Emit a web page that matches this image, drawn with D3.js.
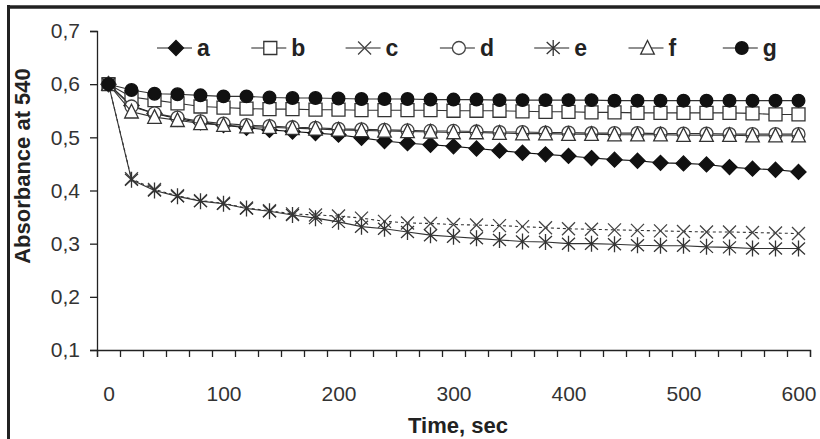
<!DOCTYPE html>
<html>
<head>
<meta charset="utf-8">
<script src="https://d3js.org/d3.v7.min.js"></script>
<style>
  body { margin: 0; background: #fff; }
  text { font-family: "Liberation Sans", Arial, sans-serif; }
</style>
</head>
<body>
<div id="chart"></div>
<script>
// time points, every 20 s
let times = d3.range(0, 601, 20);

let seriesNames = ['a', 'b', 'c', 'd', 'e', 'f', 'g'];

let valuesA = [0.600, 0.560, 0.545, 0.535, 0.528, 0.523, 0.518, 0.514, 0.511, 0.508, 0.505, 0.499, 0.493, 0.489, 0.486, 0.483, 0.479, 0.475, 0.471, 0.468, 0.465, 0.461, 0.458, 0.456, 0.452, 0.451, 0.449, 0.444, 0.441, 0.439, 0.435];
let valuesB = [0.600, 0.576, 0.570, 0.564, 0.558, 0.556, 0.554, 0.553, 0.553, 0.552, 0.552, 0.551, 0.551, 0.551, 0.551, 0.550, 0.550, 0.550, 0.549, 0.548, 0.548, 0.547, 0.547, 0.546, 0.546, 0.546, 0.546, 0.546, 0.545, 0.543, 0.543];
let valuesC = [0.600, 0.422, 0.402, 0.390, 0.381, 0.376, 0.367, 0.362, 0.356, 0.354, 0.352, 0.348, 0.342, 0.339, 0.338, 0.336, 0.335, 0.334, 0.332, 0.330, 0.328, 0.327, 0.326, 0.325, 0.324, 0.323, 0.322, 0.322, 0.321, 0.320, 0.319];
let valuesD = [0.600, 0.558, 0.545, 0.537, 0.530, 0.526, 0.523, 0.521, 0.519, 0.518, 0.516, 0.515, 0.514, 0.513, 0.512, 0.512, 0.511, 0.510, 0.510, 0.509, 0.509, 0.508, 0.508, 0.508, 0.507, 0.507, 0.507, 0.506, 0.506, 0.506, 0.506];
let valuesE = [0.600, 0.420, 0.400, 0.389, 0.380, 0.375, 0.366, 0.361, 0.354, 0.348, 0.341, 0.332, 0.328, 0.322, 0.316, 0.313, 0.310, 0.307, 0.304, 0.303, 0.300, 0.300, 0.299, 0.297, 0.296, 0.296, 0.294, 0.293, 0.291, 0.291, 0.291];
let valuesF = [0.600, 0.548, 0.538, 0.532, 0.526, 0.523, 0.520, 0.519, 0.517, 0.516, 0.514, 0.513, 0.512, 0.511, 0.510, 0.509, 0.509, 0.508, 0.507, 0.507, 0.506, 0.506, 0.505, 0.505, 0.505, 0.504, 0.504, 0.504, 0.503, 0.503, 0.503];
let valuesG = [0.600, 0.589, 0.582, 0.581, 0.579, 0.577, 0.577, 0.575, 0.574, 0.574, 0.573, 0.572, 0.572, 0.572, 0.571, 0.571, 0.571, 0.570, 0.570, 0.570, 0.570, 0.570, 0.569, 0.569, 0.569, 0.569, 0.569, 0.569, 0.569, 0.569, 0.569];

let yTicks = [0.1, 0.2, 0.3, 0.4, 0.5, 0.6, 0.7];
let xLabels = [0, 100, 200, 300, 400, 500, 600];

let allValues = [valuesA, valuesB, valuesC, valuesD, valuesE, valuesF, valuesG];

let width = 820, height = 439;
let svg = d3.select('#chart').append('svg')
  .attr('width', width)
  .attr('height', height);

// frame (top + left border of the figure)
svg.append('line').attr('x1', 7).attr('x2', width).attr('y1', 7).attr('y2', 7)
  .attr('stroke', '#222').attr('stroke-width', 3.5);
svg.append('line').attr('x1', 8.5).attr('x2', 8.5).attr('y1', 5).attr('y2', height)
  .attr('stroke', '#222').attr('stroke-width', 3);

// category style x axis: points centred between tick marks
let x = d3.scaleLinear().domain([-10, 610]).range([97, 810]);
let y = d3.scaleLinear().domain([0.1, 0.7]).range([350, 31]);

let fmt = d => d3.format('.1f')(d).replace('.', ',');

let yAxis = svg.append('g')
  .attr('transform', 'translate(97,0)')
  .call(d3.axisLeft(y).tickValues(yTicks).tickSize(7).tickPadding(10).tickFormat(fmt));

let xTickVals = d3.range(-10, 611, 20);
let xAxis = svg.append('g')
  .attr('transform', 'translate(0,350)')
  .call(d3.axisBottom(x).tickValues(xTickVals).tickSize(7).tickFormat(''));

let xLab = svg.append('g')
  .attr('transform', 'translate(0,350)')
  .call(d3.axisBottom(x).tickValues(xLabels).tickSize(0).tickPadding(36).tickFormat(d3.format('d')));
xLab.select('.domain').remove();

svg.selectAll('.domain').attr('stroke', '#222').attr('stroke-width', 1.3);
svg.selectAll('.tick line').attr('stroke', '#222').attr('stroke-width', 1.3);
svg.selectAll('.tick text')
  .attr('font-family', '"Liberation Sans", Arial, sans-serif')
  .attr('font-size', 21)
  .attr('fill', '#333');

// axis titles
svg.append('text')
  .attr('x', 458).attr('y', 433)
  .attr('text-anchor', 'middle')
  .attr('font-size', 22).attr('font-weight', 'bold').attr('fill', '#222')
  .text('Time, sec');

svg.append('text')
  .attr('transform', 'translate(30,166) rotate(-90)')
  .attr('text-anchor', 'middle')
  .attr('font-size', 22).attr('font-weight', 'bold').attr('fill', '#222')
  .text('Absorbance at 540');

// marker shapes
let markerPaths = {
  a: 'M0,-7.5L7.5,0L0,7.5L-7.5,0Z',
  b: 'M-6.5,-6.5H6.5V6.5H-6.5Z',
  c: 'M-6.5,-6.5L6.5,6.5M6.5,-6.5L-6.5,6.5',
  d: d3.symbol(d3.symbolCircle, Math.PI * 42)(),
  e: 'M-6.5,-6L6.5,6M6.5,-6L-6.5,6M0,-8V8',
  f: 'M0,-7.5L6.8,6.2H-6.8Z',
  g: d3.symbol(d3.symbolCircle, Math.PI * 40)()
};
let markerFill = {a: '#111', b: '#fff', c: 'none', d: '#fff', e: 'none', f: '#fff', g: '#111'};
let markerStroke = {a: '#111', b: '#333', c: '#444', d: '#444', e: '#333', f: '#333', g: '#111'};
let lineDash = {c: '3,3'};

let line = d3.line().x((d, i) => x(times[i])).y(d => y(d));

seriesNames.forEach((name, si) => {
  let vals = allValues[si];
  let g = svg.append('g').attr('class', 'series-' + name);
  g.append('path')
    .attr('d', line(vals))
    .attr('fill', 'none')
    .attr('stroke', name === 'a' ? '#111' : '#333')
    .attr('stroke-width', 1.1)
    .attr('stroke-dasharray', lineDash[name] || null);
  g.selectAll('.m')
    .data(vals)
    .enter().append('path')
    .attr('class', 'm')
    .attr('transform', (d, i) => 'translate(' + x(times[i]) + ',' + y(d) + ')')
    .attr('d', markerPaths[name])
    .attr('fill', markerFill[name])
    .attr('stroke', markerStroke[name])
    .attr('stroke-width', 1.3);
});

// legend
let legend = svg.append('g').attr('transform', 'translate(0,48)');
seriesNames.forEach((name, i) => {
  let cx = 176 + i * 94.3;
  let item = legend.append('g').attr('transform', 'translate(' + cx + ',0)');
  item.append('line').attr('x1', -19).attr('x2', 16).attr('y1', 0).attr('y2', 0)
    .attr('stroke', '#222').attr('stroke-width', 1.2);
  item.append('path').attr('d', markerPaths[name])
    .attr('fill', markerFill[name]).attr('stroke', markerStroke[name]).attr('stroke-width', 1.3);
  item.append('text')
    .attr('x', 21).attr('y', 7.5)
    .attr('font-size', 23).attr('font-weight', 'bold').attr('fill', '#222')
    .text(name);
});
</script>
</body>
</html>
